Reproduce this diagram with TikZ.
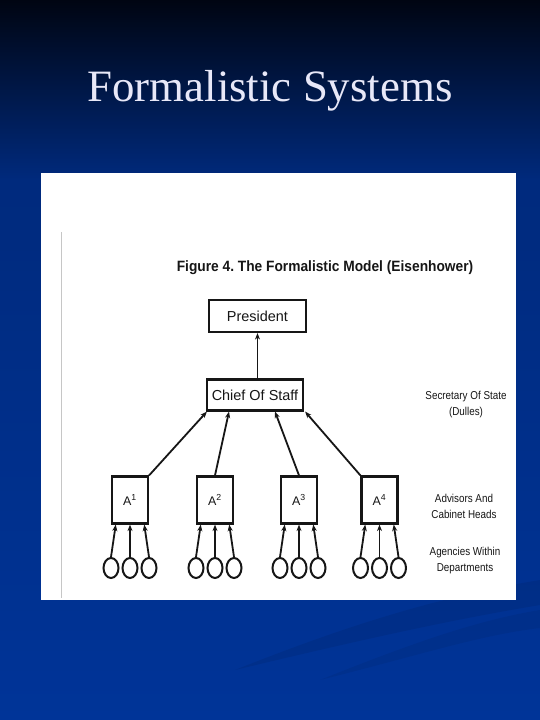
\documentclass[tikz,border=0pt]{standalone}
\usepackage{fontspec}
\setmainfont{Liberation Sans}
\newfontfamily\titlefont{Liberation Serif}
\usetikzlibrary{arrows.meta,calc,shapes.geometric}
\definecolor{navytop}{RGB}{0,5,18}
\definecolor{navymid}{RGB}{0,42,125}
\definecolor{navylow}{RGB}{0,52,152}
\definecolor{titlewhite}{RGB}{232,232,248}
\definecolor{ink}{RGB}{22,22,22}
\frenchspacing
\begin{document}
\begin{tikzpicture}[x=1bp,y=1bp,
  box/.style={draw=ink,line width=2.2bp,fill=white,inner sep=0pt,text=ink,font=\fontsize{14.5}{16}\selectfont},
  advisor/.style={box,minimum width=36bp,minimum height=47bp,font=\fontsize{12.5}{14}\selectfont},
  agency/.style={ellipse,draw=ink,line width=2bp,minimum width=15bp,minimum height=20bp,inner sep=0pt},
  arr/.style={-{Stealth[length=6.5bp,width=5bp]},line width=1.8bp,draw=ink},
  side/.style={align=center,text=ink,xscale=0.86,font=\fontsize{11.5}{16}\selectfont}]
\useasboundingbox (0,0) rectangle (540,720);
\shade[top color=navytop,bottom color=navymid] (0,540) rectangle (540,720);
\shade[top color=navymid,bottom color=navylow] (0,0) rectangle (540,540);
\fill[black,opacity=0.07] (235,50) .. controls (360,100) and (450,125) .. (540,140) -- (540,115) .. controls (450,100) and (360,80) .. (235,50);
\fill[black,opacity=0.06] (320,40) .. controls (420,80) and (480,100) .. (540,110) -- (540,92) .. controls (480,85) and (420,65) .. (320,40);
\node[font=\titlefont\fontsize{45}{50}\selectfont,text=titlewhite,anchor=base] (title) at (270,618) {Formalistic Systems};
\fill[white] (41,120) rectangle (516,547);
\draw[gray!45,line width=0.8bp] (61,122) -- (61,488);
\node[font=\bfseries\fontsize{15}{18}\selectfont,text=ink,xscale=0.92] (caption) at (325,452) {Figure 4. The Formalistic Model (Eisenhower)};
\node[box,minimum width=97bp,minimum height=32bp] (pres) at (257.5,404) {President};
\node[box,minimum width=96bp,minimum height=31bp] (chief) at (255,325) {Chief Of Staff};
\draw[arr] (chief.north -| pres.south) -- (pres.south);
\foreach \i/\x in {1/130,2/215,3/299,4/379.5}{
  \node[advisor] (a\i) at (\x,220) {A\textsuperscript{\i}};
  \foreach \j/\dx in {1/-19,2/0,3/19}{
    \node[agency] (c\i\j) at (\x+\dx,152) {};
    \draw[arr] (c\i\j.north) -- ($(a\i.south)+(0.75*\dx,0)$);
  }
}
\draw[arr] (a1.north east) -- ($(chief.south west)+(1,0)$);
\draw[arr] (a2.north) -- ($(chief.south)+(-26,0)$);
\draw[arr] (a3.north) -- ($(chief.south)+(20,0)$);
\draw[arr] (a4.north west) -- ($(chief.south east)+(1,0)$);
\node[side] (state) at (466,315) {Secretary Of State\\(Dulles)};
\node[side] (heads) at (464,214) {Advisors And\\Cabinet Heads};
\node[side] (depts) at (465,159) {Agencies Within\\Departments};
\end{tikzpicture}
\end{document}
